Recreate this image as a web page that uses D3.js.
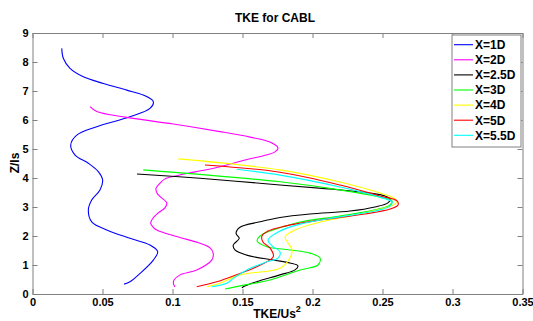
<!DOCTYPE html>
<html><head><meta charset="utf-8">
<script src="https://cdn.jsdelivr.net/npm/d3@7"></script>
<style>
html,body{margin:0;padding:0;background:#fff;}
svg{display:block;font-family:"Liberation Sans",Arial,sans-serif;}
</style></head>
<body><svg id="c" width="533" height="321"></svg>
<script>
const title = "TKE for CABL";
const xLabel = "TKE/Us";
const yLabel = "Z/ls";
const xTicks = [0, 0.05, 0.1, 0.15, 0.2, 0.25, 0.3, 0.35];
const xTickLabels = ["0", "0.05", "0.1", "0.15", "0.2", "0.25", "0.3", "0.35"];
const yTicks = [0, 1, 2, 3, 4, 5, 6, 7, 8, 9];
const seriesNames = ["X=1D", "X=2D", "X=2.5D", "X=3D", "X=4D", "X=5D", "X=5.5D"];
const seriesColors = ["#0000ff", "#ff00ff", "#000000", "#00ff00", "#ffff00", "#ff0000", "#00ffff"];

// [TKE/Us^2, Z/ls]
const x1D = [[0.0209,8.47],[0.0220,8.13],[0.0268,7.78],[0.0363,7.49],[0.0506,7.26],[0.0673,7.03],[0.0791,6.86],[0.0863,6.63],[0.0839,6.40],[0.0696,6.11],[0.0459,5.77],[0.0316,5.48],[0.0273,5.14],[0.0304,4.79],[0.0399,4.51],[0.0470,4.22],[0.0501,3.93],[0.0482,3.59],[0.0423,3.24],[0.0399,2.90],[0.0423,2.49],[0.0530,2.21],[0.0696,1.92],[0.0839,1.69],[0.0894,1.46],[0.0863,1.17],[0.0768,0.71],[0.0696,0.42],[0.0654,0.34]];
const x2D = [[0.0411,6.46],[0.0459,6.29],[0.0673,6.09],[0.1006,5.86],[0.1339,5.60],[0.1554,5.41],[0.1696,5.24],[0.1754,5.03],[0.1732,4.90],[0.1668,4.79],[0.1518,4.62],[0.1339,4.39],[0.1161,4.21],[0.1030,4.08],[0.0946,3.97],[0.0911,3.82],[0.0882,3.64],[0.0889,3.48],[0.0911,3.36],[0.0959,3.14],[0.0946,2.97],[0.0896,2.79],[0.0861,2.62],[0.0844,2.44],[0.0861,2.31],[0.0887,2.21],[0.1030,1.98],[0.1196,1.75],[0.1268,1.59],[0.1291,1.40],[0.1280,1.17],[0.1173,0.83],[0.1054,0.66],[0.1011,0.48],[0.1006,0.37],[0.1018,0.24]];
const x25D = [[0.0746,4.14],[0.1196,3.99],[0.1768,3.76],[0.2125,3.62],[0.2411,3.48],[0.2518,3.38],[0.2554,3.28],[0.2539,3.14],[0.2446,3.00],[0.2268,2.86],[0.1982,2.76],[0.1768,2.64],[0.1625,2.49],[0.1482,2.30],[0.1454,2.09],[0.1477,1.92],[0.1434,1.69],[0.1446,1.52],[0.1530,1.34],[0.1720,1.17],[0.1839,1.07],[0.1896,0.97],[0.1875,0.83],[0.1768,0.66],[0.1601,0.42],[0.1506,0.25],[0.1496,0.21]];
const x3D = [[0.0791,4.28],[0.1768,3.87],[0.2196,3.59],[0.2482,3.34],[0.2568,3.21],[0.2554,3.07],[0.2446,2.90],[0.2196,2.69],[0.1911,2.48],[0.1804,2.34],[0.1696,2.17],[0.1625,2.00],[0.1604,1.83],[0.1673,1.63],[0.1839,1.52],[0.1982,1.41],[0.2054,1.24],[0.2039,1.00],[0.1911,0.83],[0.1696,0.48],[0.1482,0.28],[0.1375,0.17]];
const x4D = [[0.1041,4.66],[0.1768,4.28],[0.2196,3.86],[0.2482,3.48],[0.2589,3.28],[0.2596,3.14],[0.2518,2.97],[0.2339,2.76],[0.2054,2.48],[0.1875,2.21],[0.1804,1.97],[0.1825,1.76],[0.1854,1.52],[0.1839,1.24],[0.1768,0.89],[0.1482,0.66],[0.1339,0.37],[0.1244,0.25]];
const x5D = [[0.1232,4.45],[0.1768,4.20],[0.2196,3.76],[0.2482,3.38],[0.2604,3.21],[0.2611,3.07],[0.2554,2.93],[0.2375,2.76],[0.2054,2.55],[0.1804,2.34],[0.1682,2.17],[0.1639,2.00],[0.1646,1.79],[0.1696,1.59],[0.1720,1.29],[0.1601,0.94],[0.1482,0.71],[0.1316,0.42],[0.1173,0.25]];
const x55D = [[0.1459,4.30],[0.1768,4.10],[0.2196,3.69],[0.2482,3.34],[0.2568,3.17],[0.2554,3.03],[0.2446,2.86],[0.2196,2.66],[0.1911,2.41],[0.1754,2.14],[0.1682,1.86],[0.1711,1.66],[0.1768,1.45],[0.1754,1.24],[0.1673,1.11],[0.1530,0.83],[0.1434,0.54],[0.1387,0.37],[0.1280,0.25]];
const seriesData = [x1D, x2D, x25D, x3D, x4D, x5D, x55D];

const svg = d3.select("#c");
const m = {l: 32.5, r: 522.5, t: 33, b: 294};
const x = d3.scaleLinear().domain([0, 0.35]).range([m.l, m.r]);
const y = d3.scaleLinear().domain([0, 9]).range([m.b, m.t]);
const axisGray = "#808080";

// series
const line = d3.line().x(d => x(d[0])).y(d => y(d[1])).curve(d3.curveCatmullRom.alpha(0.5));
seriesData.forEach((s, i) => {
  svg.append("path").attr("d", line(s)).attr("fill", "none")
    .attr("stroke", seriesColors[i]).attr("stroke-width", 1.1);
});

// axes
function styleAxis(g) {
  g.select(".domain").attr("stroke", axisGray);
  g.selectAll(".tick line").attr("stroke", axisGray);
  g.selectAll("text").attr("fill", "#000").attr("font-weight", "bold")
    .attr("font-size", 11).attr("font-family", "'Liberation Sans',Arial,sans-serif");
}
const xb = svg.append("g").attr("transform", `translate(0,${m.b})`)
  .call(d3.axisBottom(x).tickValues(xTicks).tickFormat((d, i) => xTickLabels[i]).tickSizeInner(-5).tickSizeOuter(0).tickPadding(4));
styleAxis(xb);
const xt = svg.append("g").attr("transform", `translate(0,${m.t})`)
  .call(d3.axisTop(x).tickValues(xTicks).tickFormat("").tickSizeInner(-5).tickSizeOuter(0));
styleAxis(xt);
const yl = svg.append("g").attr("transform", `translate(${m.l},0)`)
  .call(d3.axisLeft(y).tickValues(yTicks).tickFormat(d3.format("d")).tickSizeInner(-5).tickSizeOuter(0).tickPadding(4));
styleAxis(yl);
const yr = svg.append("g").attr("transform", `translate(${m.r},0)`)
  .call(d3.axisRight(y).tickValues(yTicks).tickFormat("").tickSizeInner(-5).tickSizeOuter(0));
styleAxis(yr);

// title & labels
svg.append("text").attr("x", 275).attr("y", 22).attr("text-anchor", "middle")
  .attr("font-weight", "bold").attr("font-size", 12).text(title);
const xl = svg.append("text").attr("x", 277).attr("y", 318).attr("text-anchor", "middle")
  .attr("font-weight", "bold").attr("font-size", 12);
xl.append("tspan").text(xLabel);
xl.append("tspan").attr("dy", -6).attr("font-size", 9).text("2");
svg.append("text").attr("transform", "translate(19,163) rotate(-90)").attr("text-anchor", "middle")
  .attr("font-weight", "bold").attr("font-size", 12).text(yLabel);

// legend
const lg = svg.append("g");
lg.append("rect").attr("x", 452).attr("y", 35).attr("width", 69).attr("height", 112)
  .attr("fill", "#fff").attr("stroke", axisGray);
seriesNames.forEach((n, i) => {
  const yy = 44.7 + i * 15.1;
  lg.append("line").attr("x1", 454).attr("x2", 473).attr("y1", yy).attr("y2", yy)
    .attr("stroke", seriesColors[i]).attr("stroke-width", 1.1);
  lg.append("text").attr("x", 475).attr("y", yy + 4.3).attr("font-weight", "bold")
    .attr("font-size", 12).text(n);
});
</script></body></html>
